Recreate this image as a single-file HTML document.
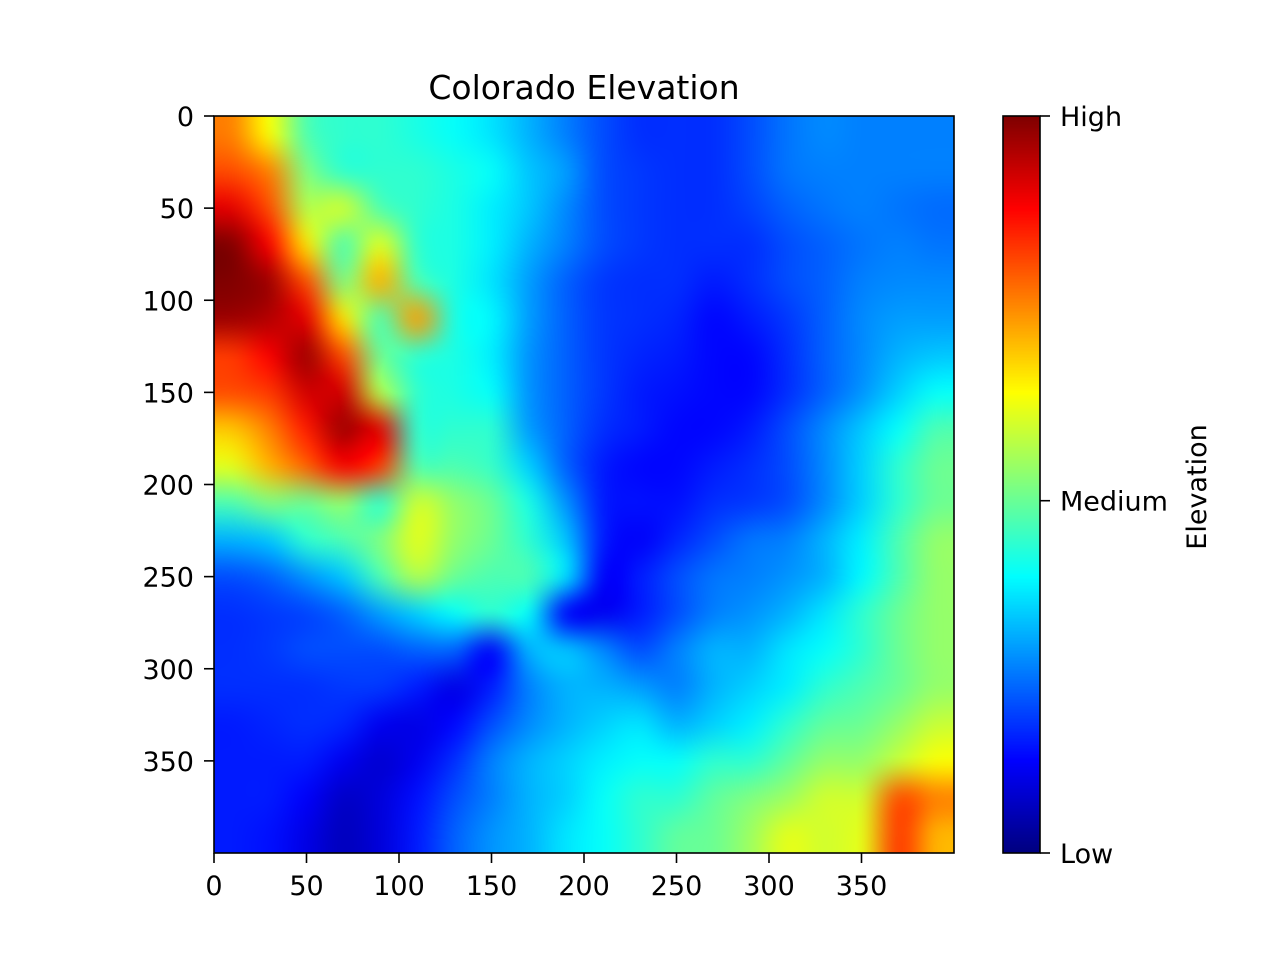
<!DOCTYPE html>
<html><head><meta charset="utf-8">
<style>
html,body{margin:0;padding:0;background:#fff;}
#wrap{position:relative;width:1280px;height:960px;overflow:hidden;font-family:"DejaVu Sans","Liberation Sans",sans-serif;}
canvas{position:absolute;}
svg{position:absolute;left:0;top:0;}
text{font-family:"DejaVu Sans","Liberation Sans",sans-serif;fill:#000;}
</style></head>
<body>
<div id="wrap">
<canvas id="heat" width="740" height="737" style="left:214px;top:116px;width:740px;height:737px"></canvas>
<canvas id="cbar" width="37" height="737" style="left:1003px;top:116px;width:37px;height:737px"></canvas>
<svg id="ov" width="1280" height="960"></svg>
</div>
<script>
// Elevation grid (20x20 cells, each 20 data units), values 0..1 (Low..High)
const gridRows = [
[0.75,0.62,0.45,0.42,0.42,0.4,0.38,0.35,0.3,0.25,0.2,0.17,0.17,0.17,0.2,0.24,0.26,0.25,0.25,0.25],
[0.8,0.75,0.5,0.42,0.42,0.42,0.4,0.38,0.32,0.28,0.2,0.18,0.17,0.17,0.2,0.24,0.25,0.25,0.25,0.25],
[0.9,0.8,0.55,0.58,0.45,0.42,0.4,0.36,0.32,0.26,0.2,0.18,0.17,0.17,0.19,0.22,0.24,0.25,0.24,0.23],
[1.0,0.88,0.65,0.45,0.6,0.42,0.4,0.36,0.3,0.25,0.2,0.18,0.17,0.17,0.17,0.2,0.22,0.24,0.25,0.24],
[1.0,0.97,0.8,0.5,0.7,0.45,0.4,0.35,0.28,0.22,0.18,0.17,0.17,0.15,0.17,0.2,0.22,0.25,0.26,0.26],
[0.97,0.95,0.9,0.65,0.45,0.72,0.4,0.37,0.28,0.22,0.18,0.17,0.16,0.13,0.15,0.18,0.22,0.26,0.28,0.28],
[0.82,0.88,0.97,0.8,0.48,0.42,0.4,0.36,0.27,0.22,0.18,0.16,0.15,0.13,0.13,0.17,0.22,0.26,0.3,0.32],
[0.8,0.82,0.92,0.92,0.55,0.42,0.4,0.38,0.27,0.22,0.18,0.15,0.14,0.13,0.13,0.17,0.22,0.27,0.33,0.38],
[0.68,0.75,0.85,0.97,0.9,0.42,0.42,0.42,0.28,0.22,0.17,0.15,0.13,0.13,0.15,0.2,0.26,0.32,0.38,0.45],
[0.6,0.7,0.78,0.88,0.82,0.45,0.45,0.43,0.33,0.22,0.15,0.13,0.13,0.15,0.17,0.2,0.26,0.33,0.42,0.48],
[0.45,0.5,0.48,0.52,0.42,0.58,0.52,0.48,0.4,0.27,0.15,0.14,0.14,0.17,0.18,0.2,0.26,0.33,0.42,0.48],
[0.3,0.32,0.42,0.45,0.5,0.6,0.52,0.48,0.42,0.32,0.15,0.12,0.16,0.2,0.24,0.25,0.3,0.36,0.45,0.52],
[0.2,0.22,0.27,0.32,0.45,0.55,0.48,0.45,0.45,0.35,0.12,0.15,0.2,0.24,0.25,0.27,0.3,0.37,0.45,0.52],
[0.17,0.18,0.19,0.22,0.28,0.33,0.38,0.42,0.38,0.12,0.11,0.15,0.2,0.25,0.27,0.3,0.35,0.42,0.48,0.52],
[0.17,0.18,0.2,0.2,0.2,0.22,0.22,0.12,0.3,0.32,0.26,0.2,0.25,0.3,0.3,0.35,0.38,0.42,0.48,0.52],
[0.17,0.17,0.17,0.18,0.18,0.15,0.1,0.15,0.25,0.3,0.3,0.28,0.25,0.3,0.33,0.36,0.42,0.45,0.48,0.52],
[0.15,0.16,0.17,0.16,0.11,0.1,0.13,0.2,0.26,0.3,0.33,0.35,0.3,0.33,0.36,0.42,0.47,0.48,0.52,0.57],
[0.15,0.15,0.15,0.11,0.08,0.11,0.17,0.25,0.3,0.33,0.36,0.38,0.38,0.42,0.42,0.47,0.52,0.52,0.57,0.62],
[0.15,0.15,0.12,0.07,0.09,0.14,0.2,0.25,0.3,0.33,0.38,0.42,0.42,0.47,0.5,0.53,0.58,0.58,0.8,0.75],
[0.15,0.14,0.1,0.06,0.09,0.15,0.22,0.27,0.3,0.35,0.38,0.42,0.47,0.48,0.53,0.6,0.58,0.6,0.82,0.7]
];
const xTicks = [0,50,100,150,200,250,300,350];
const yTicks = [0,50,100,150,200,250,300,350];
const cbarTicks = [0,0.478,1];
const cbarLabels = ["Low","Medium","High"];

const X0=214,X1=954,Y0=116,Y1=853,DATA=400;
const sx=v=>X0+v*(X1-X0)/DATA;
const sy=v=>Y0+v*(Y1-Y0)/DATA;
const cl=v=>Math.max(0,Math.min(1,v));
function jet(t){return [cl(1.5-Math.abs(4*t-3)),cl(1.5-Math.abs(4*t-2)),cl(1.5-Math.abs(4*t-1))].map(c=>Math.round(c*255));}

const n=gridRows.length,m=gridRows[0].length;
const small=document.createElement('canvas');small.width=m;small.height=n;
const sctx=small.getContext('2d');const img=sctx.createImageData(m,n);
gridRows.forEach((row,r)=>row.forEach((v,c)=>{const [R,G,B]=jet(v);const i=(r*m+c)*4;img.data[i]=R;img.data[i+1]=G;img.data[i+2]=B;img.data[i+3]=255;}));
sctx.putImageData(img,0,0);
const hc=document.getElementById('heat').getContext('2d');
hc.imageSmoothingEnabled=true;hc.imageSmoothingQuality='high';
hc.drawImage(small,0,0,740,737);

const cb=document.getElementById('cbar').getContext('2d');
for(let y=0;y<737;y++){const [R,G,B]=jet(1-y/736);cb.fillStyle=`rgb(${R},${G},${B})`;cb.fillRect(0,y,37,1);}

const NS='http://www.w3.org/2000/svg';const svg=document.getElementById('ov');
function add(tag,attrs,txt){const e=document.createElementNS(NS,tag);for(const k in attrs)e.setAttribute(k,attrs[k]);if(txt!==undefined)e.textContent=txt;svg.appendChild(e);return e;}
let e;
e=add('rect',{x:X0,y:Y0,width:X1-X0,height:Y1-Y0,fill:'none',stroke:'#000','stroke-width':1.6});


e=add('rect',{x:1003,y:116,width:37,height:737,fill:'none',stroke:'#000','stroke-width':1.6});


xTicks.forEach(v=>{
  e=add('line',{x1:sx(v),x2:sx(v),y1:Y1,y2:Y1+10,stroke:'#000','stroke-width':1.6});
  
  
  e=add('text',{x:sx(v),y:Y1+42,'text-anchor':'middle','font-size':27},String(v));
  
  
});
yTicks.forEach(v=>{
  e=add('line',{x1:X0-10,x2:X0,y1:sy(v),y2:sy(v),stroke:'#000','stroke-width':1.6});
  
  
  e=add('text',{x:X0-20,y:sy(v)+10,'text-anchor':'end','font-size':27},String(v));
  
  
});
cbarTicks.forEach((v,i)=>{
  const y=853-v*737;
  e=add('line',{x1:1040,x2:1050,y1:y,y2:y,stroke:'#000','stroke-width':1.6});
  
  
  e=add('text',{x:1060,y:y+10,'font-size':27},cbarLabels[i]);
  
  
});
e=add('text',{x:584,y:99,'text-anchor':'middle','font-size':33},'Colorado Elevation');


e=add('text',{x:1206,y:487,'text-anchor':'middle','font-size':27,transform:'rotate(-90 1206 487)'},'Elevation');


</script>
</body></html>
